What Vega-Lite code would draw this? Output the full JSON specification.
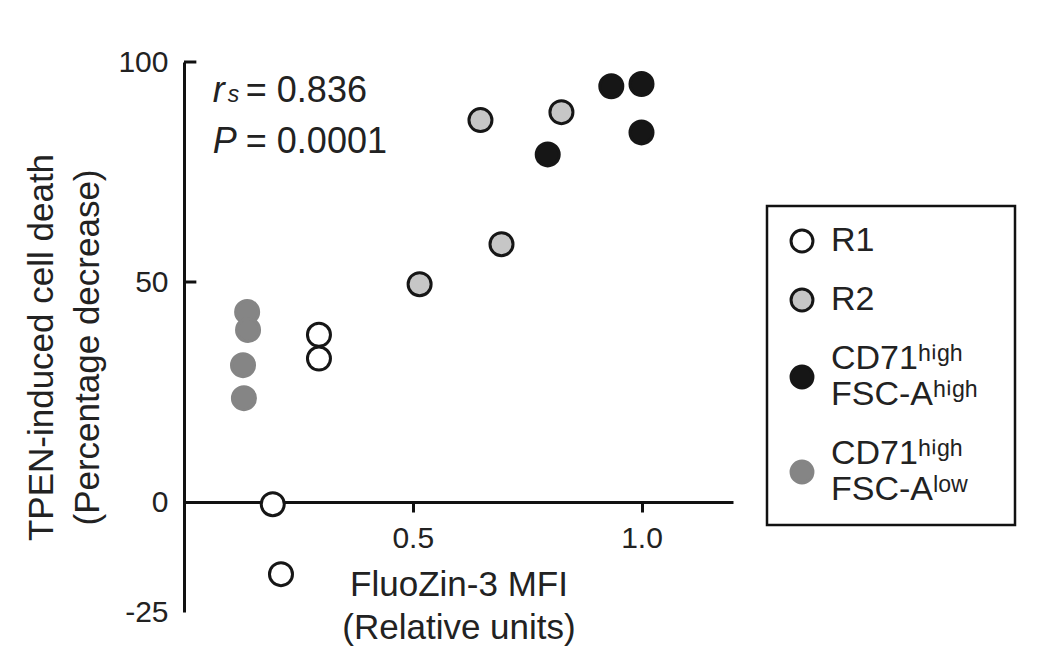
{
  "$schema": "https://vega.github.io/schema/vega-lite/v6.json",
  "width": 549,
  "height": 550,
  "autosize": "none",
  "padding": {"left": 184, "top": 62, "right": 314, "bottom": 56},
  "background": "white",
  "config": {
    "view": {"stroke": null},
    "font": "Liberation Sans",
    "axis": {
      "domainColor": "#111111",
      "domainWidth": 3,
      "tickColor": "#111111",
      "tickWidth": 3,
      "grid": false,
      "labelFont": "Liberation Sans",
      "labelFontSize": 30,
      "labelColor": "#222222",
      "titleFont": "Liberation Sans",
      "titleFontSize": 35,
      "titleFontWeight": "normal",
      "titleColor": "#222222"
    },
    "legend": {
      "orient": "none",
      "legendX": 583,
      "legendY": 144,
      "padding": 18,
      "strokeColor": "#111111",
      "strokeWidth": 2.5,
      "labelFont": "Liberation Sans",
      "labelFontSize": 34,
      "labelColor": "#222222",
      "labelLineHeight": 34,
      "labelOffset": 12,
      "labelLimit": 400,
      "rowPadding": 25,
      "symbolSize": 480,
      "symbolStrokeWidth": 3,
      "symbolType": "circle"
    }
  },
  "datasets": {
    "points": [
      {"group": "R1", "x": 0.194, "y": -0.5},
      {"group": "R1", "x": 0.212, "y": -16.4},
      {"group": "R1", "x": 0.295, "y": 38.0},
      {"group": "R1", "x": 0.295, "y": 32.6},
      {"group": "R2", "x": 0.648, "y": 86.8},
      {"group": "R2", "x": 0.825, "y": 88.6},
      {"group": "R2", "x": 0.694, "y": 58.6},
      {"group": "R2", "x": 0.515, "y": 49.5},
      {"group": "CD71ʰⁱᵍʰ|FSC-Aʰⁱᵍʰ", "x": 0.934, "y": 94.5},
      {"group": "CD71ʰⁱᵍʰ|FSC-Aʰⁱᵍʰ", "x": 1.0, "y": 95.0},
      {"group": "CD71ʰⁱᵍʰ|FSC-Aʰⁱᵍʰ", "x": 1.0, "y": 84.0},
      {"group": "CD71ʰⁱᵍʰ|FSC-Aʰⁱᵍʰ", "x": 0.795, "y": 79.0},
      {"group": "CD71ʰⁱᵍʰ|FSC-Aˡᵒʷ", "x": 0.138, "y": 43.2},
      {"group": "CD71ʰⁱᵍʰ|FSC-Aˡᵒʷ", "x": 0.140, "y": 39.1},
      {"group": "CD71ʰⁱᵍʰ|FSC-Aˡᵒʷ", "x": 0.129, "y": 31.1},
      {"group": "CD71ʰⁱᵍʰ|FSC-Aˡᵒʷ", "x": 0.131, "y": 23.6}
    ],
    "stats": [
      {"sym": "r", "sub": "s", "value": "= 0.836", "x": 0.063, "y": 91.0},
      {"sym": "P", "sub": "", "value": "= 0.0001", "x": 0.063, "y": 79.4}
    ],
    "yticks": [
      {"y": 50},
      {"y": 100}
    ]
  },
  "layer": [
    {
      "data": {"name": "points"},
      "mark": {"type": "circle", "opacity": 1, "strokeWidth": 3, "size": 530},
      "encoding": {
        "x": {
          "field": "x",
          "type": "quantitative",
          "scale": {"domain": [0, 1.2], "nice": false, "zero": false},
          "axis": {
            "values": [0.5, 1.0],
            "offset": -110,
            "tickSize": 10,
            "labelPadding": 11,
            "labelExpr": "format(datum.value, '.1f')",
            "title": ["FluoZin-3 MFI", "(Relative units)"],
            "titleLineHeight": 43,
            "titlePadding": 14
          }
        },
        "y": {
          "field": "y",
          "type": "quantitative",
          "scale": {"domain": [-25, 100], "nice": false, "zero": false},
          "axis": {
            "values": [-25, 0, 50, 100],
            "ticks": false,
            "labelPadding": 16,
            "labelExpr": "'' + datum.value",
            "title": ["TPEN-induced cell death", "(Percentage decrease)"],
            "titleLineHeight": 46,
            "titlePadding": 12,
            "titleY": 285
          }
        },
        "fill": {
          "field": "group",
          "type": "nominal",
          "title": null,
          "scale": {
            "domain": ["R1", "R2", "CD71ʰⁱᵍʰ|FSC-Aʰⁱᵍʰ", "CD71ʰⁱᵍʰ|FSC-Aˡᵒʷ"],
            "range": ["#ffffff", "#c6c6c6", "#161616", "#858585"]
          },
          "legend": {
            "labelExpr": "split(datum.label + '\u00a0\u00a0\u200b', '|')",
            "labelBaseline": {"expr": "indexof(datum.label, '|') >= 0 ? 'line-bottom' : 'middle'"},
            "encode": {"labels": {"dy": {"condition": {"test": "indexof(datum.label, '|') >= 0", "value": -17}, "value": 0}}}
          }
        },
        "stroke": {
          "field": "group",
          "type": "nominal",
          "title": null,
          "scale": {
            "domain": ["R1", "R2", "CD71ʰⁱᵍʰ|FSC-Aʰⁱᵍʰ", "CD71ʰⁱᵍʰ|FSC-Aˡᵒʷ"],
            "range": ["#161616", "#161616", "#161616", "#858585"]
          },
          "legend": {
            "labelExpr": "split(datum.label + '\u00a0\u00a0\u200b', '|')",
            "labelBaseline": {"expr": "indexof(datum.label, '|') >= 0 ? 'line-bottom' : 'middle'"},
            "encode": {"labels": {"dy": {"condition": {"test": "indexof(datum.label, '|') >= 0", "value": -17}, "value": 0}}}
          }
        }
      }
    },
    {
      "data": {"name": "yticks"},
      "mark": {"type": "rule", "strokeWidth": 3, "color": "#111111"},
      "encoding": {
        "x": {"datum": 0, "type": "quantitative"},
        "x2": {"datum": 0.027},
        "y": {"field": "y", "type": "quantitative"}
      }
    },
    {
      "data": {"name": "stats"},
      "mark": {"type": "text", "align": "left", "baseline": "alphabetic", "fontSize": 36, "fontStyle": "italic", "color": "#222222"},
      "encoding": {
        "x": {"field": "x", "type": "quantitative"},
        "y": {"field": "y", "type": "quantitative"},
        "text": {"field": "sym"}
      }
    },
    {
      "data": {"name": "stats"},
      "mark": {"type": "text", "align": "left", "baseline": "alphabetic", "fontSize": 23, "fontStyle": "italic", "color": "#222222", "dx": 15},
      "encoding": {
        "x": {"field": "x", "type": "quantitative"},
        "y": {"field": "y", "type": "quantitative"},
        "text": {"field": "sub"}
      }
    },
    {
      "data": {"name": "stats"},
      "mark": {"type": "text", "align": "left", "baseline": "alphabetic", "fontSize": 36, "color": "#222222", "dx": 33},
      "encoding": {
        "x": {"field": "x", "type": "quantitative"},
        "y": {"field": "y", "type": "quantitative"},
        "text": {"field": "value"}
      }
    }
  ]
}
